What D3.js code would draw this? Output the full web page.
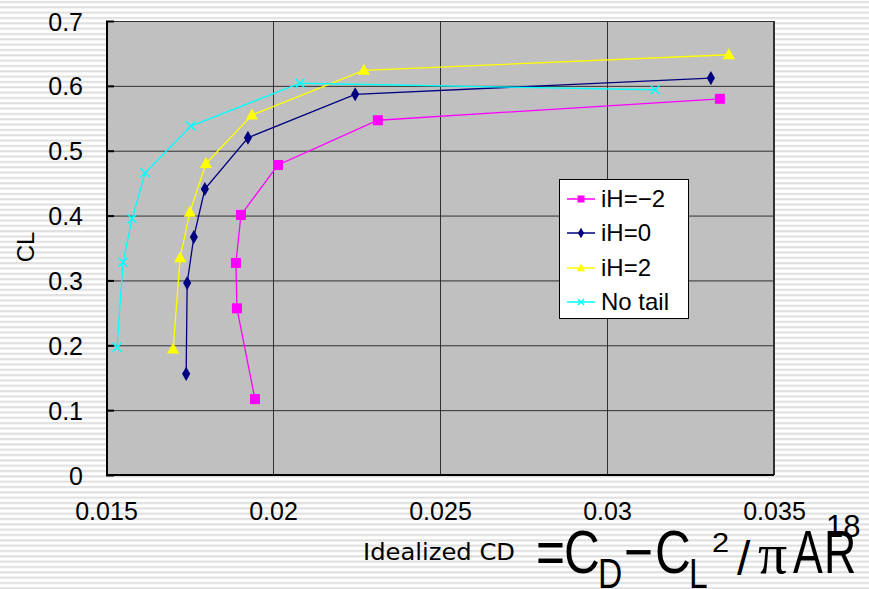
<!DOCTYPE html>
<html>
<head>
<meta charset="utf-8">
<script src="https://d3js.org/d3.v7.min.js"></script>
<style>
  body { margin:0; background:#fff; }
  svg text { font-family: "Liberation Sans", Arial, sans-serif; fill:#000; }
  .tick text { font-size: 25px; }
</style>
</head>
<body>
<script>
// ---- data ----
var seriesNames = ["iH=\u22122", "iH=0", "iH=2", "No tail"];
var cdMinus2 = [0.01946, 0.01892, 0.01889, 0.01904, 0.02015, 0.02314, 0.03338];
var clMinus2 = [0.117, 0.257, 0.327, 0.401, 0.478, 0.547, 0.580];
var cdZero   = [0.01740, 0.01743, 0.01763, 0.01796, 0.01925, 0.02246, 0.03311];
var clZero   = [0.156, 0.296, 0.367, 0.441, 0.520, 0.587, 0.612];
var cdPlus2  = [0.01701, 0.01722, 0.01751, 0.01799, 0.01937, 0.02272, 0.03365];
var clPlus2  = [0.194, 0.335, 0.405, 0.480, 0.555, 0.624, 0.648];
var cdNoTail = [0.01533, 0.01551, 0.01578, 0.01617, 0.01754, 0.02081, 0.03144];
var clNoTail = [0.197, 0.328, 0.395, 0.466, 0.538, 0.604, 0.594];
var xTicks = [0.015, 0.02, 0.025, 0.03, 0.035];
var yTicks = [0, 0.1, 0.2, 0.3, 0.4, 0.5, 0.6, 0.7];

var colors = ["#ff00ff", "#000080", "#ffff00", "#00ffff"];
var markers = ["square", "diamond", "triangle", "cross"];
var cds = [cdMinus2, cdZero, cdPlus2, cdNoTail];
var cls = [clMinus2, clZero, clPlus2, clNoTail];

var W = 869, H = 589;
var pL = 106, pR = 774, pT = 21, pB = 475;

var svg = d3.select("body").append("svg")
    .attr("width", W).attr("height", H);

// striped background
var defs = svg.append("defs");
var pat = defs.append("pattern")
    .attr("id", "stripes")
    .attr("patternUnits", "userSpaceOnUse")
    .attr("width", 8).attr("height", 5.33);
pat.append("rect").attr("width", 8).attr("height", 5.33).attr("fill", "#ffffff");
pat.append("rect").attr("y", 1).attr("width", 8).attr("height", 2).attr("fill", "#dedede");
svg.append("rect").attr("width", W).attr("height", H).attr("fill", "url(#stripes)");

var x = d3.scaleLinear().domain([0.015, 0.035]).range([pL, pR]);
var y = d3.scaleLinear().domain([0, 0.7]).range([pB, pT]);

// plot area
svg.append("rect")
    .attr("x", pL).attr("y", pT)
    .attr("width", pR - pL).attr("height", pB - pT)
    .attr("fill", "#c0c0c0");

// grid
svg.append("g")
    .attr("transform", "translate(0," + pT + ")")
    .call(d3.axisBottom(x).tickValues(xTicks).tickSize(pB - pT).tickFormat(""))
    .call(g => g.select(".domain").remove())
    .selectAll("line").attr("stroke", "#303030");
svg.append("g")
    .attr("transform", "translate(" + pL + ",0)")
    .call(d3.axisRight(y).tickValues(yTicks).tickSize(pR - pL).tickFormat(""))
    .call(g => g.select(".domain").remove())
    .selectAll("line").attr("stroke", "#303030");

// frame
svg.append("rect")
    .attr("x", pL + 0.5).attr("y", pT + 0.5)
    .attr("width", pR - pL - 1).attr("height", pB - pT - 1)
    .attr("fill", "none").attr("stroke", "#303030");
svg.append("line").attr("x1", pL + 1).attr("x2", pL + 1).attr("y1", pT).attr("y2", pB + 1)
    .attr("stroke", "#000").attr("stroke-width", 2);
svg.append("line").attr("x1", pL).attr("x2", pR).attr("y1", pB).attr("y2", pB)
    .attr("stroke", "#000").attr("stroke-width", 2);

// inward ticks on y axis
svg.append("g")
    .attr("transform", "translate(" + pL + ",0)")
    .call(d3.axisRight(y).tickValues(yTicks).tickSize(8).tickFormat(""))
    .call(g => g.select(".domain").remove())
    .selectAll("line").attr("stroke", "#000").attr("stroke-width", 2);

// axis labels
svg.append("g")
    .attr("transform", "translate(" + (pL - 23) + ",0)")
    .call(d3.axisLeft(y).tickValues(yTicks).tickSize(0).tickFormat(d3.format("")))
    .call(g => g.select(".domain").remove())
    .selectAll("text").attr("dy", "0.36em").attr("x", 0);
svg.append("g")
    .attr("transform", "translate(0," + (pB + 45) + ")")
    .call(d3.axisBottom(x).tickValues(xTicks).tickSize(0).tickFormat(d3.format("")))
    .call(g => g.select(".domain").remove())
    .selectAll("text").attr("dy", 0).attr("y", 0);

// axis titles
svg.append("text")
    .attr("transform", "translate(34,247) rotate(-90)")
    .attr("text-anchor", "middle")
    .style("font-size", "24px")
    .text("CL");
svg.append("text")
    .attr("x", 363).attr("y", 560)
    .attr("textLength", 152).attr("lengthAdjust", "spacingAndGlyphs")
    .style("font-family", "'DejaVu Sans'")
    .style("font-size", "23px")
    .text("Idealized CD");

// formula pieces: [text, left, baseline, size, scaleX, font]
var formula = [
  ["=", 536, 573, 62, 0.8, "Liberation Sans"],
  ["C", 564, 573, 62, 0.8, "Liberation Sans"],
  ["D", 598, 588, 42, 0.8, "Liberation Sans"],
  ["\u2212", 624, 573, 62, 0.8, "Liberation Sans"],
  ["C", 655, 573, 62, 0.8, "Liberation Sans"],
  ["L", 689, 588, 42, 0.8, "Liberation Sans"],
  ["2", 712, 552, 28, 1.1, "Liberation Sans"],
  ["/", 737, 575, 48, 1.0, "Liberation Sans"],
  ["\u03c0", 758, 573, 58, 1.0, "Liberation Serif"],
  ["A", 793, 573, 62, 0.72, "Liberation Sans"],
  ["R", 824, 573, 62, 0.72, "Liberation Sans"],
  ["18", 826, 537, 31, 1.0, "Liberation Sans"]
];
svg.append("g").selectAll("text")
    .data(formula)
    .join("text")
    .attr("transform", d => "translate(" + d[1] + "," + d[2] + ") scale(" + d[4] + ",1)")
    .style("font-size", d => d[3] + "px")
    .style("font-family", d => "'" + d[5] + "'")
    .text(d => d[0]);

// marker drawing
function drawMarker(g, type, color, s) {
  if (type === "square") {
    g.append("rect").attr("x", -s / 2).attr("y", -s / 2).attr("width", s).attr("height", s)
      .attr("fill", color);
  } else if (type === "diamond") {
    g.append("path").attr("d", d3.symbol(d3.symbolDiamond, s * s * 0.9)())
      .attr("fill", color);
  } else if (type === "triangle") {
    g.append("path").attr("d", "M0," + (-s * 0.6) + "L" + (s * 0.55) + "," + (s * 0.4) + "L" + (-s * 0.55) + "," + (s * 0.4) + "Z")
      .attr("fill", color);
  } else {
    var h = s / 2;
    g.append("path").attr("d", "M" + -h + "," + -h + "L" + h + "," + h + "M" + -h + "," + h + "L" + h + "," + -h)
      .attr("stroke", color).attr("stroke-width", 1.5).attr("fill", "none");
  }
}

var line = d3.line().x(d => x(d[0])).y(d => y(d[1]));
var sizes = [10, 8, 11, 9];

seriesNames.forEach(function (name, i) {
  var pts = d3.zip(cds[i], cls[i]);
  svg.append("path")
    .datum(pts)
    .attr("d", line)
    .attr("fill", "none")
    .attr("stroke", colors[i])
    .attr("stroke-width", 1.3);
  pts.forEach(function (p) {
    var g = svg.append("g").attr("transform", "translate(" + x(p[0]) + "," + y(p[1]) + ")");
    drawMarker(g, markers[i], colors[i], sizes[i]);
  });
});

// legend
var legend = svg.append("g");
legend.append("rect")
    .attr("x", 559.5).attr("y", 179.5).attr("width", 129).attr("height", 139)
    .attr("fill", "#fff").attr("stroke", "#000");
var rowY = [199, 233, 268, 302];
seriesNames.forEach(function (name, i) {
  legend.append("line")
    .attr("x1", 567).attr("x2", 595).attr("y1", rowY[i]).attr("y2", rowY[i])
    .attr("stroke", colors[i]).attr("stroke-width", 1.5);
  var g = legend.append("g").attr("transform", "translate(581," + rowY[i] + ")");
  drawMarker(g, markers[i], colors[i], [7, 6, 8, 6][i]);
  legend.append("text")
    .attr("x", 601).attr("y", rowY[i] + 8)
    .style("font-size", "24px")
    .text(name);
});
</script>
</body>
</html>
